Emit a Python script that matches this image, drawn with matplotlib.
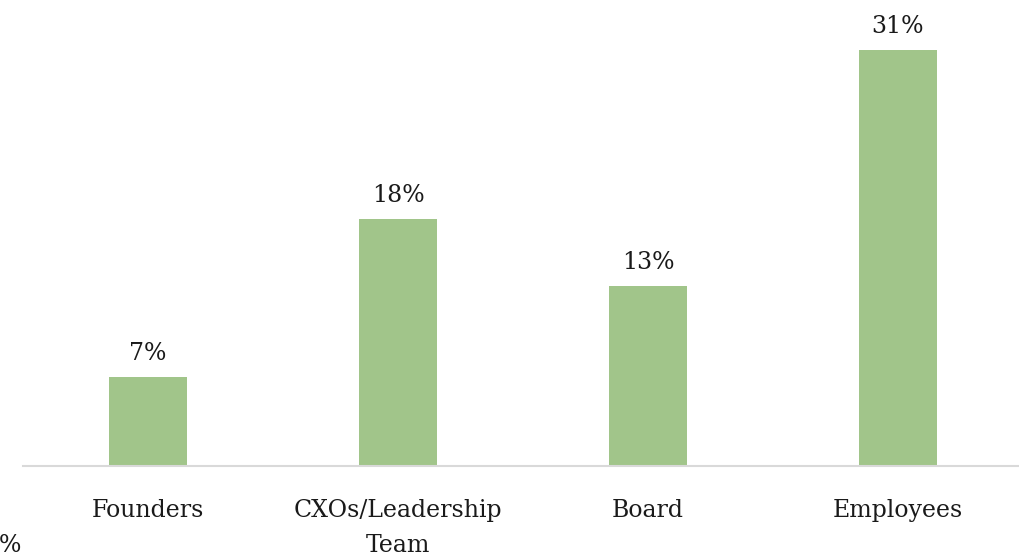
import matplotlib.pyplot as plt

categories = ['Founders', 'CXOs/Leadership\nTeam', 'Board', 'Employees']
values = [6.6, 18.4, 13.4, 31.0]
value_labels = ['7%', '18%', '13%', '31%']

plt.rcParams['font.family'] = ['DejaVu Serif']

fig = plt.figure(figsize=(10.2, 5.55), dpi=100)
ax = fig.add_axes([23 / 1020, 89 / 555, 1000 / 1020, 456 / 555])

bars = ax.bar(range(len(categories)), values, width=0.312, color='#a1c58a')
ax.bar_label(bars, labels=value_labels, padding=9, fontsize=17, color='#1a1a1a')

ax.set_xlim(-0.5, 3.5)
ax.set_ylim(0, 34)
ax.set_xticks(range(len(categories)))
ax.set_xticklabels(categories, fontsize=17, color='#1a1a1a', linespacing=1.65)
ax.tick_params(axis='x', length=0, pad=24)
ax.set_yticks([])
for side in ['top', 'right', 'left']:
    ax.spines[side].set_visible(False)
ax.spines['bottom'].set_color('#d9d9d9')
ax.spines['bottom'].set_linewidth(1.5)

# clipped axis label at the bottom-left corner
fig.text(-1 / 1020, 9 / 555, '%', fontsize=17, color='#1a1a1a', va='center', ha='left')

fig.savefig('out.png', dpi=100)
